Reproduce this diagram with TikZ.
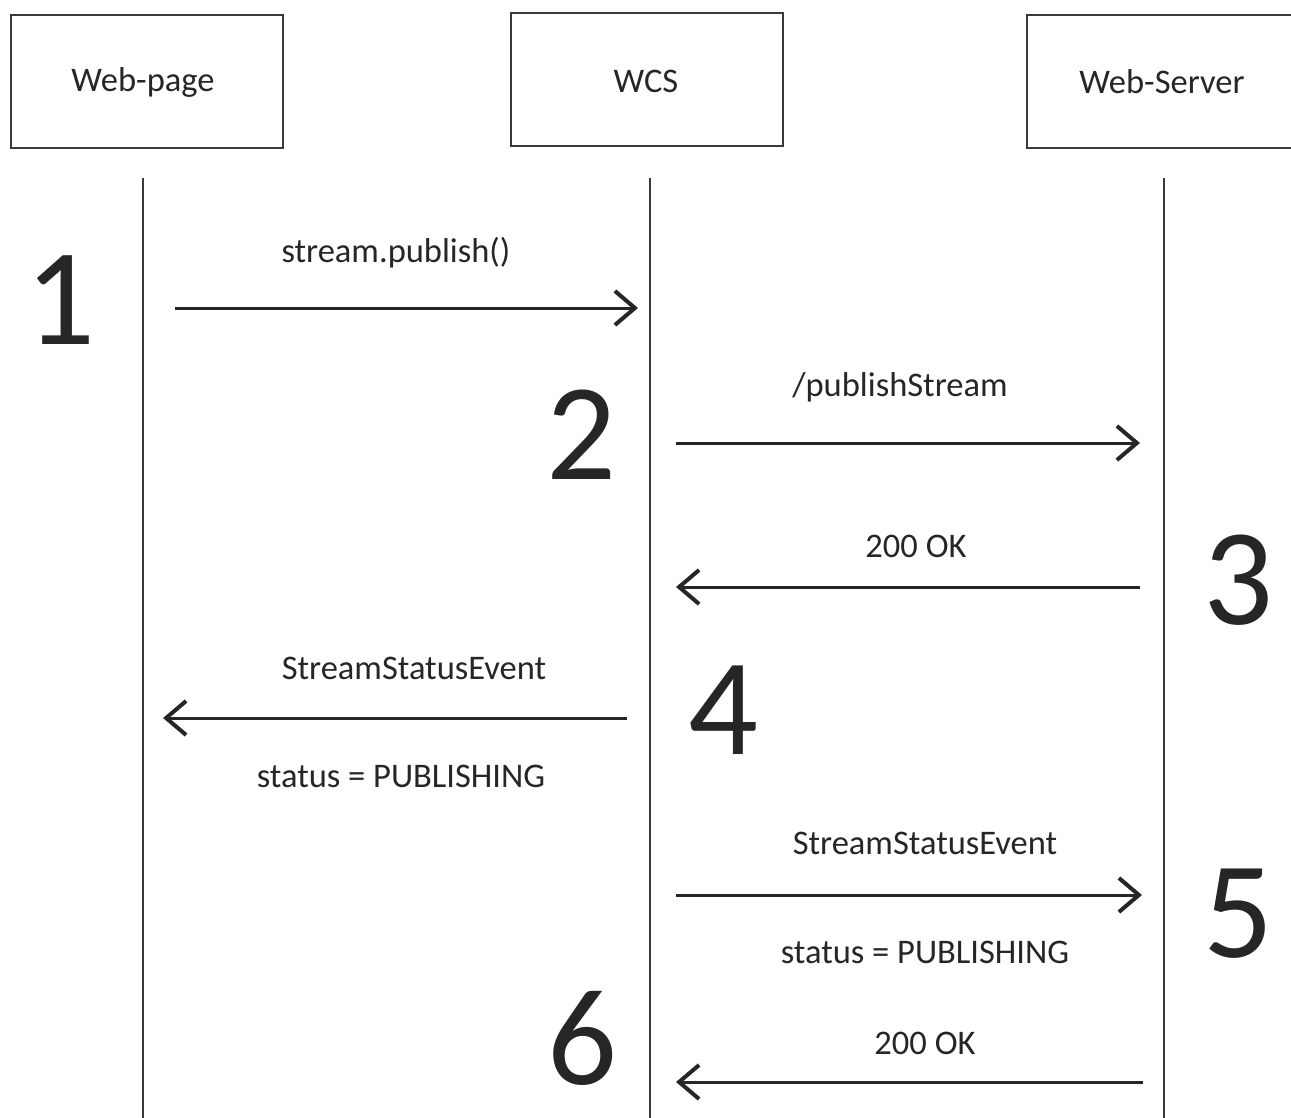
\documentclass[tikz,border=0pt]{standalone}
\usepackage{fontspec}
\setmainfont{Carlito}
\usetikzlibrary{arrows.meta}
\definecolor{ink}{HTML}{262626}
\definecolor{linec}{HTML}{3A3A3A}
\tikzset{
  actor/.style={draw=linec, line width=2pt, minimum width=272pt, minimum height=133pt, inner sep=0pt},
  life/.style={draw=linec, line width=1.8pt},
  msg/.style={draw=ink, line width=3pt, -{Straight Barb[length=20pt,width=34pt,line width=4pt]}},
  lbl/.style={text=ink, font=\fontsize{34.5}{37}\selectfont, inner sep=0pt},
  num/.style={text=ink, font=\fontsize{138}{140}\selectfont, inner sep=0pt}
}
\begin{document}
\begin{tikzpicture}[x=1pt,y=-1pt]
\useasboundingbox (0,0) rectangle (1291,1118);
\clip (0,0) rectangle (1291,1118);
% actors
\node[actor] (wp) at (147,81.5) {};
\node[lbl] (wpt) at (143,82) {Web-page};
\node[actor] (wcs) at (646.5,79.5) {};
\node[lbl] (wcst) at (646,81) {WCS};
\node[actor] (ws) at (1163,81.5) {};
\node[lbl] (wst) at (1162,82) {Web-Server};
% lifelines
\coordinate (l1t) at (143,178); \coordinate (l1b) at (143,1120);
\coordinate (l2t) at (650,178); \coordinate (l2b) at (650,1120);
\coordinate (l3t) at (1164,178); \coordinate (l3b) at (1164,1120);
\draw[life] (l1t) -- (l1b);
\draw[life] (l2t) -- (l2b);
\draw[life] (l3t) -- (l3b);
% message endpoints
\coordinate (a1s) at (175,308); \coordinate (a1e) at (638,308);
\coordinate (a2s) at (676,443); \coordinate (a2e) at (1140,443);
\coordinate (a3s) at (1140,587); \coordinate (a3e) at (676,587);
\coordinate (a4s) at (627,718); \coordinate (a4e) at (163,718);
\coordinate (a5s) at (676,895); \coordinate (a5e) at (1142,895);
\coordinate (a6s) at (1143,1082); \coordinate (a6e) at (676,1082);
\draw[msg] (a1s) -- (a1e);
\draw[msg] (a2s) -- (a2e);
\draw[msg] (a3s) -- (a3e);
\draw[msg] (a4s) -- (a4e);
\draw[msg] (a5s) -- (a5e);
\draw[msg] (a6s) -- (a6e);
% labels
\node[lbl] (t1) at (396,253) {stream.publish()};
\node[lbl] (t2) at (900,387) {/publishStream};
\node[lbl] (t3) at (916,546) {200 OK};
\node[lbl] (t4a) at (414,668) {StreamStatusEvent};
\node[lbl] (t4b) at (401,776) {status = PUBLISHING};
\node[lbl] (t5a) at (925,843) {StreamStatusEvent};
\node[lbl] (t5b) at (925,952) {status = PUBLISHING};
\node[lbl] (t6) at (925,1043) {200 OK};
% step numbers
\node[num] (n1) at (60,300) {1};
\node[num] (n2) at (581,435) {2};
\node[num] (n3) at (1238,580) {3};
\node[num] (n4) at (723,710) {4};
\node[num] (n5) at (1238,914) {5};
\node[num] (n6) at (582,1038) {6};
\end{tikzpicture}
\end{document}
